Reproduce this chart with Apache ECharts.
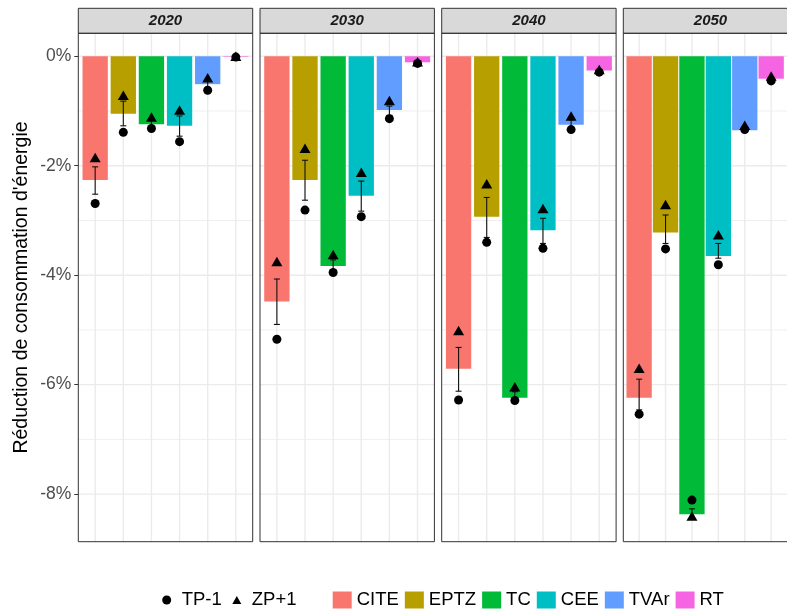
<!DOCTYPE html>
<html><head><meta charset="utf-8">
<script src="https://cdn.jsdelivr.net/npm/echarts@6/dist/echarts.min.js"></script>
<style>html,body{margin:0;padding:0;background:#fff}#c{width:787px;height:609px}</style>
</head><body><div id="c"></div>
<script>
// ---------- data ----------
const years = ['2020', '2030', '2040', '2050'];
const categories = ['CITE', 'EPTZ', 'TC', 'CEE', 'TVAr', 'RT'];
const colors = ['#F8766D', '#B79F00', '#00BA38', '#00BFC4', '#619CFF', '#F564E3'];

// bar values (%)
const bar2020 = [-2.26, -1.05, -1.24, -1.27, -0.51, -0.01];
const bar2030 = [-4.48, -2.26, -3.83, -2.55, -0.98, -0.11];
const bar2040 = [-5.71, -2.93, -6.24, -3.18, -1.25, -0.26];
const bar2050 = [-6.24, -3.22, -8.37, -3.65, -1.35, -0.41];

// TP-1 (circles)
const tp2020 = [-2.69, -1.39, -1.32, -1.56, -0.62, -0.015];
const tp2030 = [-5.17, -2.81, -3.95, -2.93, -1.14, -0.13];
const tp2040 = [-6.28, -3.40, -6.29, -3.51, -1.34, -0.29];
const tp2050 = [-6.54, -3.52, -8.11, -3.81, -1.34, -0.45];

// ZP+1 (triangles)
const zp2020 = [-1.85, -0.71, -1.11, -0.98, -0.39, 0.0];
const zp2030 = [-3.75, -1.68, -3.62, -2.12, -0.81, -0.10];
const zp2040 = [-5.01, -2.33, -6.04, -2.78, -1.09, -0.24];
const zp2050 = [-5.70, -2.71, -8.40, -3.26, -1.26, -0.36];

// error bars (high end / low end)
const errHi2020 = [-2.02, -0.82, -1.16, -1.09, -0.45, -0.005];
const errLo2020 = [-2.52, -1.27, -1.31, -1.46, -0.58, -0.015];
const errHi2030 = [-4.07, -1.90, -3.72, -2.28, -0.91, -0.10];
const errLo2030 = [-4.90, -2.63, -3.92, -2.83, -1.08, -0.13];
const errHi2040 = [-5.32, -2.58, -6.13, -2.96, -1.16, -0.25];
const errLo2040 = [-6.12, -3.31, -6.27, -3.42, -1.30, -0.28];
const errHi2050 = [-5.90, -2.90, -8.27, -3.42, -1.30, -0.39];
const errLo2050 = [-6.46, -3.42, -8.45, -3.69, -1.38, -0.43];

const yTicks = [0, -2, -4, -6, -8];
const yMinor = [-1, -3, -5, -7];
const yMin = -8.87, yMax = 0.42;

const bars = [bar2020, bar2030, bar2040, bar2050];
const tps = [tp2020, tp2030, tp2040, tp2050];
const zps = [zp2020, zp2030, zp2040, zp2050];
const errHis = [errHi2020, errHi2030, errHi2040, errHi2050];
const errLos = [errLo2020, errLo2030, errLo2040, errLo2050];

// ---------- layout ----------
const FONT = 'Liberation Sans, Arial, Helvetica, sans-serif';
const panelLefts = [78.3, 260, 441.7, 623.3];
const panelW = 174.4;
const panelTop = 33.3, panelBottom = 541.7;
const stripTop = 8.3;
const xMin = 0.4, xMax = categories.length + 0.6;
const barW = panelW / (xMax - xMin) * 0.9;

const chart = echarts.init(document.getElementById('c'), null, {renderer: 'canvas'});

const grids = [], xAxes = [], yAxes = [], series = [], graphics = [];

function renderGrid(params, api) {
  const kind = api.value(0), v = api.value(1);
  const cs = params.coordSys;
  if (kind === 2) {
    const x = api.coord([v, 0])[0];
    return {type: 'line', shape: {x1: x, y1: cs.y, x2: x, y2: cs.y + cs.height},
            style: {stroke: '#ebebeb', lineWidth: 1.4}};
  }
  const y = api.coord([1, v])[1];
  return {type: 'line', shape: {x1: cs.x, y1: y, x2: cs.x + cs.width, y2: y},
          style: {stroke: '#ebebeb', lineWidth: kind === 0 ? 1.4 : 0.8}};
}

function renderErr(params, api) {
  const x = api.value(0), lo = api.value(1), hi = api.value(2);
  const a = api.coord([x, lo]), b = api.coord([x, hi]);
  const w = 3;
  const st = {stroke: '#111', lineWidth: 1.1};
  return {type: 'group', children: [
    {type: 'line', shape: {x1: a[0], y1: a[1], x2: b[0], y2: b[1]}, style: st},
    {type: 'line', shape: {x1: a[0] - w, y1: a[1], x2: a[0] + w, y2: a[1]}, style: st},
    {type: 'line', shape: {x1: b[0] - w, y1: b[1], x2: b[0] + w, y2: b[1]}, style: st}
  ]};
}

const gridData = [];
yTicks.forEach(v => gridData.push([0, v]));
yMinor.forEach(v => gridData.push([1, v]));
categories.forEach((c, i) => gridData.push([2, i + 1]));

years.forEach((yr, g) => {
  grids.push({left: panelLefts[g], top: panelTop, width: panelW, height: panelBottom - panelTop, containLabel: false});
  xAxes.push({type: 'value', gridIndex: g, min: xMin, max: xMax, show: false});
  const ya = {type: 'value', gridIndex: g, min: yMin, max: yMax,
              splitLine: {show: false}, axisLine: {show: false}};
  if (g === 0) {
    Object.assign(ya, {
      axisTick: {show: true, length: 4, lineStyle: {color: '#333', width: 1}, customValues: yTicks},
      axisLabel: {show: true, customValues: yTicks, margin: 7, color: '#4d4d4d', fontSize: 17.5, fontFamily: FONT,
                  formatter: v => v + '%'},
      name: "Réduction de consommation d'énergie",
      nameLocation: 'middle', nameGap: 47,
      nameTextStyle: {fontSize: 19.5, color: '#000', fontFamily: FONT}
    });
  } else {
    Object.assign(ya, {axisTick: {show: false}, axisLabel: {show: false}});
  }
  yAxes.push(ya);

  series.push({type: 'custom', xAxisIndex: g, yAxisIndex: g, silent: true, z: 1,
               renderItem: renderGrid, encode: {x: 0, y: 1}, data: gridData});
  series.push({type: 'bar', xAxisIndex: g, yAxisIndex: g, barWidth: barW, z: 2, silent: true,
               data: categories.map((c, i) => ({value: [i + 1, bars[g][i]], itemStyle: {color: colors[i]}}))});
  series.push({type: 'custom', xAxisIndex: g, yAxisIndex: g, silent: true, z: 3,
               renderItem: renderErr, encode: {x: 0, y: [1, 2]},
               data: categories.map((c, i) => [i + 1, errLos[g][i], errHis[g][i]])});
  series.push({name: 'TP-1', type: 'scatter', xAxisIndex: g, yAxisIndex: g, z: 4, silent: true,
               symbol: 'circle', symbolSize: 9, itemStyle: {color: '#000', opacity: 1},
               data: categories.map((c, i) => [i + 1, tps[g][i]])});
  series.push({name: 'ZP+1', type: 'scatter', xAxisIndex: g, yAxisIndex: g, z: 5, silent: true,
               symbol: 'triangle', symbolSize: [11, 9.5], itemStyle: {color: '#000', opacity: 1},
               data: categories.map((c, i) => [i + 1, zps[g][i]])});

  // strip
  graphics.push({type: 'rect', z: 100, shape: {x: panelLefts[g], y: stripTop, width: panelW, height: panelTop - stripTop},
                 style: {fill: '#d9d9d9', stroke: '#333', lineWidth: 1}});
  graphics.push({type: 'text', z: 101, x: panelLefts[g] + panelW / 2, y: (stripTop + panelTop) / 2,
                 style: {text: yr, fill: '#1a1a1a', font: 'italic bold 15px ' + FONT, align: 'center', verticalAlign: 'middle'}});
  // panel border
  graphics.push({type: 'rect', z: 100, shape: {x: panelLefts[g], y: panelTop, width: panelW, height: panelBottom - panelTop},
                 style: {fill: 'none', stroke: '#333', lineWidth: 1}});
});

// legend-only series for fill colours
categories.forEach((c, i) => {
  series.push({name: c, type: 'scatter', xAxisIndex: 0, yAxisIndex: 0, data: [], itemStyle: {color: colors[i], opacity: 1}});
});

const legendText = {fontSize: 18.5, color: '#000', fontFamily: FONT, lineHeight: 20};

chart.setOption({
  animation: false,
  backgroundColor: '#fff',
  grid: grids, xAxis: xAxes, yAxis: yAxes, series: series,
  legend: [
    {data: [{name: 'TP-1', icon: 'circle'}, {name: 'ZP+1', icon: 'path://M5,0L10,9L0,9Z'}],
     left: 162.2, top: 590, padding: 0, itemWidth: 9, itemHeight: 9, itemGap: 10.5,
     selectedMode: false, textStyle: Object.assign({}, legendText, {padding: [0, 0, 0, 5.5]})},
    {data: categories.map(c => ({name: c, icon: 'rect'})),
     left: 332.7, top: 590, padding: 0, itemWidth: 19, itemHeight: 17, itemGap: 6,
     selectedMode: false, textStyle: legendText}
  ],
  graphic: graphics
});
</script>
</body></html>
